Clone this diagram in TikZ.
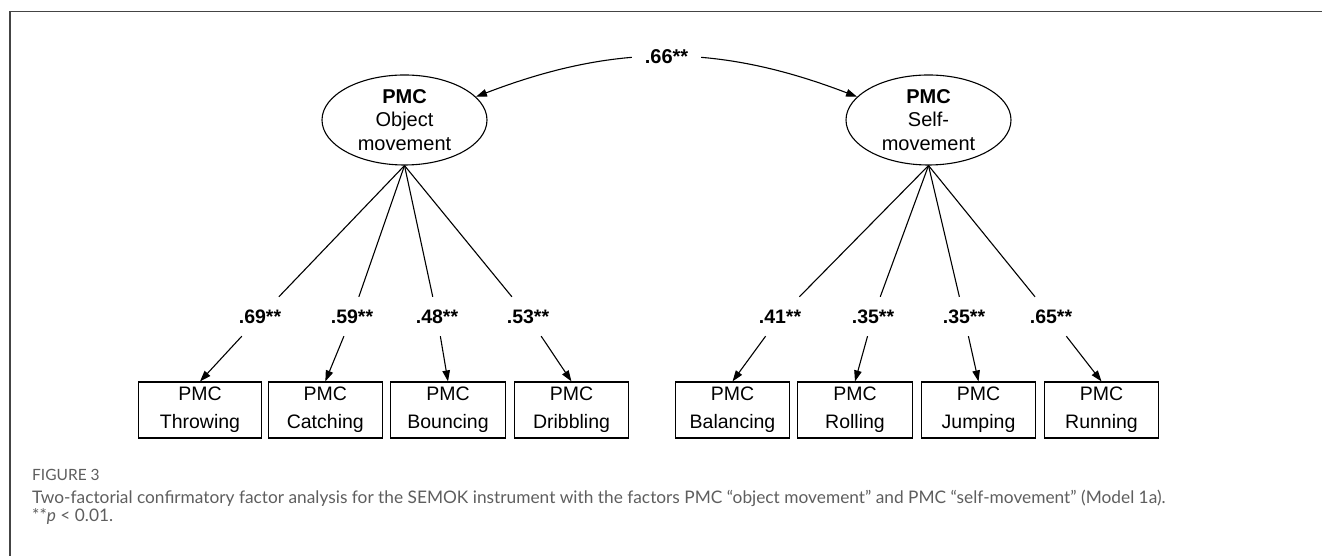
\documentclass[tikz,border=0pt]{standalone}
\usepackage{fontspec}
\setmainfont{Liberation Sans}
\newfontfamily\capfont{Lato}
\usepackage{xcolor}
\usetikzlibrary{positioning, shapes, calc, arrows.meta}

\definecolor{framegray}{HTML}{444444}
\definecolor{capgray}{HTML}{5E5E5E}

\begin{document}
\begin{tikzpicture}[x=1pt, y=1pt,
    factor/.style={draw, ellipse, line width=1.1pt, minimum width=165pt, minimum height=90pt,
      inner sep=0pt, align=center, font=\fontsize{20}{23.7}\selectfont},
    itembox/.style={draw, rectangle, line width=1.1pt, minimum height=56pt, inner sep=0pt,
      align=center, font=\fontsize{19.5}{27.7}\selectfont},
    loading/.style={fill=white, inner xsep=2pt, inner ysep=0pt, minimum height=39pt,
      font=\bfseries\fontsize{19.5}{22}\selectfont},
    link/.style={line width=1.1pt},
    arr/.style={line width=1.1pt, -{Triangle[length=11pt, width=7.5pt]}}]
  \useasboundingbox (0,0) rectangle (1322,556);

  % frame
  \draw[framegray, line width=1.5pt] (10,0) -- (10,544.5) -- (1322,544.5);

  % factors
  \node[factor] (obj) at (404.5,436) {\textbf{PMC}\\Object\\movement};
  \node[factor] (self) at (928.5,436) {\textbf{PMC}\\Self-\\movement};

  \draw[link, {Triangle[length=11pt, width=7.5pt]}-{Triangle[length=11pt, width=7.5pt]}]
    (obj.18) to[bend left=21] node[loading, minimum height=0pt, inner xsep=13pt, font=\bfseries\fontsize{20}{22}\selectfont] (cor) {.66**} (self.162);

  % indicators
  \foreach \nm/\x/\w/\lab in {thr/200/123/Throwing, cat/325.3/114.5/Catching, bou/448/114.5/Bouncing,
      dri/571.5/114.5/Dribbling, bal/732.5/114.5/Balancing, rol/855/114.5/Rolling,
      jum/978.5/114.5/Jumping, run/1101.5/114.5/Running} {
    \node[itembox, minimum width=\w pt] (\nm) at (\x,146) {PMC\\\lab};
  }

  % loadings
  \foreach \f/\nm/\x/\val in {obj/thr/260/.69, obj/cat/352/.59, obj/bou/437/.48, obj/dri/528/.53,
      self/bal/780/.41, self/rol/873/.35, self/jum/964/.35, self/run/1051/.65} {
    \node[loading] (l\nm) at (\x,239.5) {\val**};
    \draw[link] (\f.south) -- (l\nm);
    \draw[arr] (l\nm) -- (\nm.north);
  }

  % caption
  \node[anchor=base west, inner sep=0pt, text=capgray, font=\capfont\fontsize{15.5}{18}\selectfont] (fig) at (32,75.3) {FIGURE 3};
  \node[anchor=base west, inner sep=0pt, text=capgray, font=\capfont\fontsize{17.3}{20}\selectfont] (cap) at (32,52)
    {Two-factorial confirmatory factor analysis for the SEMOK instrument with the factors PMC “object movement” and PMC “self-movement” (Model 1a).};
  \node[anchor=base west, inner sep=0pt, text=capgray, font=\capfont\fontsize{17.3}{20}\selectfont] (note) at (32,34.3)
    {**\textit{p} < 0.01.};
\end{tikzpicture}
\end{document}
